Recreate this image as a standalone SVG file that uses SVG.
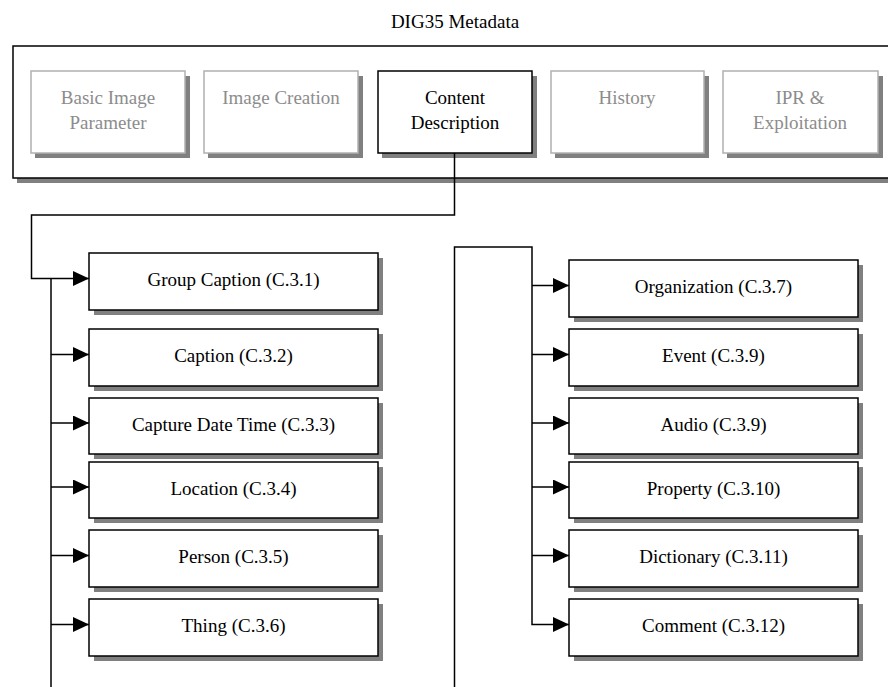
<svg xmlns="http://www.w3.org/2000/svg" width="888" height="687" viewBox="0 0 888 687" font-family="'Liberation Serif', 'Times New Roman', serif">
<defs>
<style>
text{font-family:'Liberation Serif','Times New Roman',serif;font-size:19px;text-anchor:middle;fill:#000}
.sh{fill:#808080}
.bx{fill:#fff;stroke:#000;stroke-width:1.5}
.gbx{fill:#fff;stroke:#b0b0b0;stroke-width:1.5}
.gt{fill:#8c8c8c}
.ln{fill:none;stroke:#000;stroke-width:1.5}
</style>
<marker id="ah" markerWidth="16" markerHeight="15" refX="16" refY="7.5" orient="auto" markerUnits="userSpaceOnUse">
<path d="M0,0 L16,7.5 L0,15 Z" fill="#000"/>
</marker>
</defs>
<rect width="888" height="687" fill="#fff"/>
<text x="455" y="28">DIG35 Metadata</text>
<g id="metadata">
<rect class="sh" x="17" y="50" width="880" height="133"/>
<rect class="bx" x="13" y="46" width="880" height="132"/>
</g>
<g id="basic">
<rect class="sh" x="35" y="76" width="155" height="82"/>
<rect class="gbx" x="31" y="71" width="154" height="82"/>
<text class="gt" x="108" y="104">Basic Image</text>
<text class="gt" x="108" y="129">Parameter</text>
</g>
<g id="creation">
<rect class="sh" x="208" y="76" width="155" height="82"/>
<rect class="gbx" x="204" y="71" width="154" height="82"/>
<text class="gt" x="281" y="104">Image Creation</text>
</g>
<g id="content">
<rect class="sh" x="382" y="76" width="155" height="82"/>
<rect class="bx" x="378" y="71" width="154" height="82"/>
<text x="455" y="104">Content</text>
<text x="455" y="129">Description</text>
</g>
<g id="history">
<rect class="sh" x="555" y="76" width="154" height="82"/>
<rect class="gbx" x="551" y="71" width="153" height="82"/>
<text class="gt" x="627" y="104">History</text>
</g>
<g id="ipr">
<rect class="sh" x="727" y="76" width="156" height="82"/>
<rect class="gbx" x="723" y="71" width="155" height="82"/>
<text class="gt" x="800" y="104">IPR &amp;</text>
<text class="gt" x="800" y="129">Exploitation</text>
</g>
<g id="connectors">
<path class="ln" d="M454.5,153 V215 H31.5 V278.5 H89" marker-end="url(#ah)"/>
<path class="ln" d="M51,278.5 V687"/>
<path class="ln" d="M51,354.5 H89" marker-end="url(#ah)"/>
<path class="ln" d="M51,423 H89" marker-end="url(#ah)"/>
<path class="ln" d="M51,487 H89" marker-end="url(#ah)"/>
<path class="ln" d="M51,555.5 H89" marker-end="url(#ah)"/>
<path class="ln" d="M51,624.5 H89" marker-end="url(#ah)"/>
<path class="ln" d="M454.5,687 V247 H532 V624.5 H569" marker-end="url(#ah)"/>
<path class="ln" d="M532,285.5 H569" marker-end="url(#ah)"/>
<path class="ln" d="M532,354.5 H569" marker-end="url(#ah)"/>
<path class="ln" d="M532,423 H569" marker-end="url(#ah)"/>
<path class="ln" d="M532,487 H569" marker-end="url(#ah)"/>
<path class="ln" d="M532,555.5 H569" marker-end="url(#ah)"/>
</g>
<g id="group-caption">
<rect class="sh" x="94" y="258" width="289" height="57"/>
<rect class="bx" x="89" y="253" width="289" height="57"/>
<text x="233.5" y="286">Group Caption (C.3.1)</text>
</g>
<g id="caption">
<rect class="sh" x="94" y="334" width="289" height="57"/>
<rect class="bx" x="89" y="329" width="289" height="57"/>
<text x="233.5" y="362">Caption (C.3.2)</text>
</g>
<g id="capture">
<rect class="sh" x="94" y="403" width="289" height="56"/>
<rect class="bx" x="89" y="398" width="289" height="56"/>
<text x="233.5" y="431">Capture Date Time (C.3.3)</text>
</g>
<g id="location">
<rect class="sh" x="94" y="467" width="289" height="56"/>
<rect class="bx" x="89" y="462" width="289" height="56"/>
<text x="233.5" y="495">Location (C.3.4)</text>
</g>
<g id="person">
<rect class="sh" x="94" y="535" width="289" height="57"/>
<rect class="bx" x="89" y="530" width="289" height="57"/>
<text x="233.5" y="563">Person (C.3.5)</text>
</g>
<g id="thing">
<rect class="sh" x="94" y="604" width="289" height="57"/>
<rect class="bx" x="89" y="599" width="289" height="57"/>
<text x="233.5" y="632">Thing (C.3.6)</text>
</g>
<g id="organization">
<rect class="sh" x="574" y="265" width="289" height="57"/>
<rect class="bx" x="569" y="260" width="289" height="57"/>
<text x="713.5" y="293">Organization (C.3.7)</text>
</g>
<g id="event">
<rect class="sh" x="574" y="334" width="289" height="57"/>
<rect class="bx" x="569" y="329" width="289" height="57"/>
<text x="713.5" y="362">Event (C.3.9)</text>
</g>
<g id="audio">
<rect class="sh" x="574" y="403" width="289" height="56"/>
<rect class="bx" x="569" y="398" width="289" height="56"/>
<text x="713.5" y="431">Audio (C.3.9)</text>
</g>
<g id="property">
<rect class="sh" x="574" y="467" width="289" height="56"/>
<rect class="bx" x="569" y="462" width="289" height="56"/>
<text x="713.5" y="495">Property (C.3.10)</text>
</g>
<g id="dictionary">
<rect class="sh" x="574" y="535" width="289" height="57"/>
<rect class="bx" x="569" y="530" width="289" height="57"/>
<text x="713.5" y="563">Dictionary (C.3.11)</text>
</g>
<g id="comment">
<rect class="sh" x="574" y="604" width="289" height="57"/>
<rect class="bx" x="569" y="599" width="289" height="57"/>
<text x="713.5" y="632">Comment (C.3.12)</text>
</g>
</svg>
